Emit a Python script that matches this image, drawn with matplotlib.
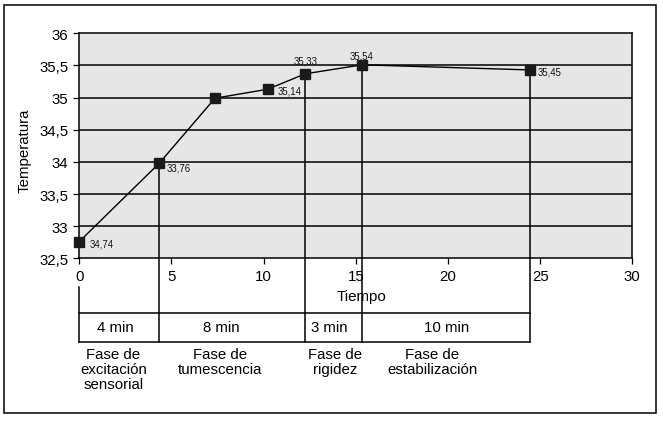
import matplotlib
matplotlib.use('Agg')
import matplotlib.pyplot as plt
from matplotlib.transforms import blended_transform_factory
from matplotlib.patches import Rectangle

# ---- data ----
tiempo = [0, 4.34, 7.36, 10.22, 12.26, 15.34, 24.47]
temperatura = [32.76, 33.98, 34.99, 35.13, 35.37, 35.51, 35.43]
etiquetas = ['34,74', '33,76', None, '35,14', '35,33', '35,54', '35,45']
limites_idx = [0, 1, 4, 5, 6]
duraciones = ['4 min', '8 min', '3 min', '10 min']
fases = ['Fase de\nexcitación\nsensorial', 'Fase de\ntumescencia',
         'Fase de\nrigidez', 'Fase de\nestabilización']
y_ticks = [32.5, 33, 33.5, 34, 34.5, 35, 35.5, 36]
y_tick_labels = ['32,5', '33', '33,5', '34', '34,5', '35', '35,5', '36']
x_ticks = [0, 5, 10, 15, 20, 25, 30]
x_tick_labels = ['0', '5', '10', '15', '20', '25', '30']

# ---- layout ----
label_offsets = [(7.2, -1.4, 'left'), (5.3, -3.4, 'left'), None, (6.9, -1.0, 'left'),
                 (0, 9.8, 'center'), (0, 6.7, 'center'), (5.0, -0.9, 'left')]
dur_dx = [-0.23, -0.57, -0.23, 0.0]
fase_dx = [-0.32, -0.67, 0.07, -0.77]

plt.rcParams['font.family'] = ['Liberation Sans', 'DejaVu Sans']
FS = 10.8
LW = 1.1

fig = plt.figure(figsize=(6.63, 4.27), dpi=100)
fig.patch.set_facecolor('white')
W, H = 663, 427
ax = fig.add_axes([79.3 / W, 1 - 259.3 / H, (632.3 - 79.3) / W, (259.3 - 34.3) / H])
ax.set_facecolor('#e6e6e6')
ax.set_xlim(0, 30)
ax.set_ylim(32.5, 36)

for y in y_ticks[1:-1]:
    ax.axhline(y, color='black', lw=LW, zorder=1)

for s in ax.spines.values():
    s.set_color('black')
    s.set_linewidth(LW)

ax.set_yticks(y_ticks)
ax.set_yticklabels(y_tick_labels, fontsize=FS)
ax.set_xticks(x_ticks)
ax.set_xticklabels(x_tick_labels, fontsize=FS)
ax.tick_params(axis='both', direction='out', length=4.5, width=0.9, color='black', pad=3.5)

# vertical phase lines inside axes
for i in limites_idx[1:]:
    ax.plot([tiempo[i], tiempo[i]], [32.5, temperatura[i]], color='black', lw=LW, zorder=2)

ax.plot(tiempo, temperatura, color='black', lw=1.0, marker='s', markersize=6.8,
        markerfacecolor='#1a1a1a', markeredgecolor='#1a1a1a', zorder=4, clip_on=False)

for t, v, lab, off in zip(tiempo, temperatura, etiquetas, label_offsets):
    if lab is None:
        continue
    dx, dy, ha = off
    ax.annotate(lab, (t, v), xytext=(dx, dy), textcoords='offset points',
                ha=ha, va='center', fontsize=6.9, color='#111111')

ax.text(0.51, -0.169, 'Tiempo', transform=ax.transAxes, ha='center', va='center', fontsize=FS)
ax.text(-0.0996, 0.482, 'Temperatura', transform=ax.transAxes, ha='center', va='center',
        rotation=90, fontsize=FS)

# ---- phase table below axis ----
tr = blended_transform_factory(ax.transData, ax.transAxes)
y_top = -0.2444
y_bot = -0.3733
y_zero_start = -0.1289
bounds = [tiempo[i] for i in limites_idx]
kw = dict(color='black', lw=LW, transform=tr, clip_on=False)
ax.plot([bounds[0], bounds[0]], [y_zero_start, y_bot], **kw)
for b in bounds[1:]:
    ax.plot([b, b], [0, y_bot], **kw)
ax.plot([bounds[0], bounds[-1]], [y_top, y_top], **kw)
ax.plot([bounds[0], bounds[-1]], [y_bot, y_bot], **kw)

for k in range(len(duraciones)):
    cx = (bounds[k] + bounds[k + 1]) / 2
    ax.text(cx + dur_dx[k], -0.3067, duraciones[k], transform=tr, ha='center', va='center',
            fontsize=FS)
    ax.text(cx + fase_dx[k], -0.395, fases[k], transform=tr, ha='center', va='top',
            fontsize=FS, linespacing=1.08, multialignment='center')

# outer border
fig.patches.append(Rectangle((3.5 / W, 1 - 414 / H), 652 / W, 408 / H, transform=fig.transFigure,
                             fill=False, edgecolor='black', lw=1.1))

fig.savefig('out.png', dpi=100, facecolor='white')
